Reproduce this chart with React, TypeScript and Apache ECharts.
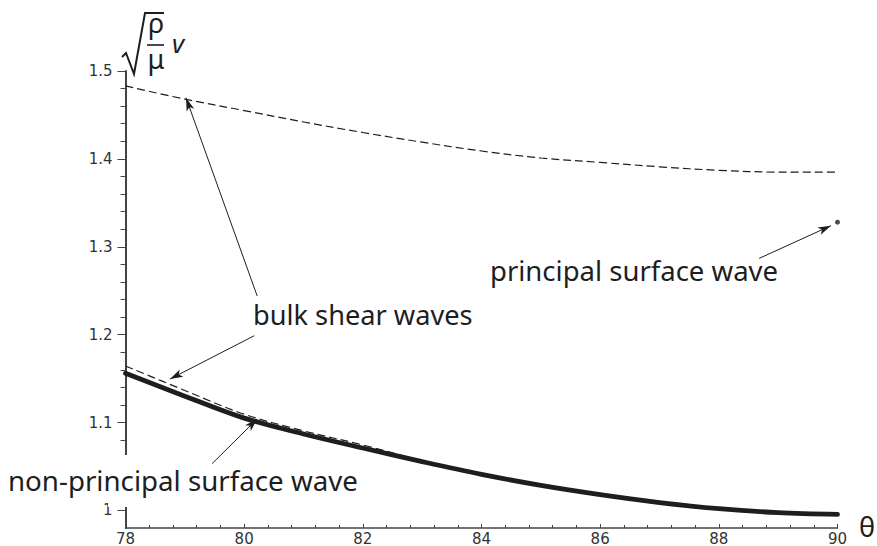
import React, { useEffect, useRef } from "react";
import * as echarts from "echarts";

// theta (degrees)
const thetaValues = [78, 79, 80, 81, 82, 83, 84, 85, 86, 87, 88, 89, 90];
// upper bulk shear wave (dashed)
const outerBulkWave = [1.483, 1.468, 1.455, 1.442, 1.430, 1.419, 1.409, 1.401, 1.396, 1.391, 1.387, 1.385, 1.385];
// lower bulk shear wave (dashed), merges into the surface wave
const innerBulkTheta = [78, 79, 80, 81, 82, 83, 84];
const innerBulkWave = [1.1644, 1.1365, 1.1095, 1.0905, 1.0745, 1.0565, 1.041];
// non-principal surface wave (thick solid)
const nonPrincipalWave = [1.156, 1.130, 1.105, 1.087, 1.071, 1.0555, 1.041, 1.0285, 1.018, 1.009, 1.002, 0.9975, 0.9955];
// principal surface wave (single point)
const principalTheta = [90];
const principalWave = [1.328];

// tick values
const xTickLabels = [78, 80, 82, 84, 86, 88, 90];
const yMajorTicks = [1, 1.1, 1.2, 1.3, 1.4, 1.5];
const yMinorTicks = [
  1.02, 1.04, 1.06, 1.08, 1.12, 1.14, 1.16, 1.18, 1.22, 1.24, 1.26, 1.28,
  1.32, 1.34, 1.36, 1.38, 1.42, 1.44, 1.46, 1.48,
];

// annotation arrows: [start theta, start v, tip theta, tip v]
const arrowStartTheta = [80.22, 80.17, 79.46, 88.68];
const arrowStartV = [1.2439, 1.1988, 1.0533, 1.2868];
const arrowTipTheta = [79.02, 78.75, 80.22, 89.89];
const arrowTipV = [1.4695, 1.1495, 1.1041, 1.324];

const annotationTexts = ["bulk shear waves", "non-principal surface wave", "principal surface wave"];

const INK = "#1e1e1e";
const TEXT_FONT = "'Noto Sans', 'DejaVu Sans', sans-serif";
const TICK_FONT = "'DejaVu Sans', sans-serif";

export default function App() {
  const ref = useRef<HTMLDivElement>(null);

  useEffect(() => {
    if (!ref.current) return;
    const chart = echarts.init(ref.current, null, { renderer: "svg" });

    const arrows = arrowStartTheta.map((_, i) => [
      { coord: [arrowStartTheta[i], arrowStartV[i]] },
      { coord: [arrowTipTheta[i], arrowTipV[i]] },
    ]);

    const option: any = {
      animation: false,
      backgroundColor: "#ffffff",
      grid: { left: 125.5, right: 39.5, top: 71, bottom: 14, containLabel: false },
      xAxis: {
        type: "value",
        min: 78,
        max: 90,
        interval: 2,
        axisLine: { show: true, onZero: false, lineStyle: { color: "#444", width: 1.5 } },
        axisTick: { show: true, inside: true, length: 4, lineStyle: { color: "#444", width: 1 } },
        minorTick: { show: true, splitNumber: 5, length: 3, lineStyle: { color: "#444", width: 1 } },
        splitLine: { show: false },
        axisLabel: {
          show: true,
          margin: 3,
          color: "#333",
          fontSize: 15,
          fontFamily: TICK_FONT,
          customValues: xTickLabels,
        },
      },
      yAxis: [
        {
          type: "value",
          min: 0.98,
          max: 1.5,
          position: "left",
          axisLine: { show: true, onZero: false, lineStyle: { color: "#444", width: 2 } },
          axisTick: {
            show: true,
            inside: false,
            length: 8,
            customValues: yMajorTicks,
            lineStyle: { color: "#444", width: 1 },
          },
          splitLine: { show: false },
          axisLabel: {
            show: true,
            margin: 13,
            color: "#333",
            fontSize: 15,
            fontFamily: TICK_FONT,
            customValues: yMajorTicks,
          },
        },
        {
          type: "value",
          min: 0.98,
          max: 1.5,
          position: "left",
          offset: 0,
          axisLine: { show: false },
          axisTick: {
            show: true,
            inside: false,
            length: 5,
            customValues: yMinorTicks,
            lineStyle: { color: "#444", width: 1 },
          },
          splitLine: { show: false },
          axisLabel: { show: false },
        },
      ],
      series: [
        {
          name: "bulk shear wave (upper)",
          type: "line",
          data: thetaValues.map((t, i) => [t, outerBulkWave[i]]),
          smooth: 0.35,
          showSymbol: false,
          symbol: "none",
          lineStyle: { color: INK, width: 1.2, type: [8, 4] },
          z: 3,
          silent: true,
        },
        {
          name: "bulk shear wave (lower)",
          type: "line",
          data: innerBulkTheta.map((t, i) => [t, innerBulkWave[i]]),
          smooth: 0.35,
          showSymbol: false,
          symbol: "none",
          lineStyle: { color: INK, width: 1.2, type: [8, 4] },
          z: 3,
          silent: true,
        },
        {
          name: "non-principal surface wave",
          type: "line",
          data: thetaValues.map((t, i) => [t, nonPrincipalWave[i]]),
          smooth: 0.35,
          showSymbol: false,
          symbol: "none",
          lineStyle: { color: INK, width: 4.8, cap: "round" },
          z: 4,
          silent: true,
        },
        {
          name: "principal surface wave",
          type: "scatter",
          data: principalTheta.map((t, i) => [t, principalWave[i]]),
          symbol: "circle",
          symbolSize: 5,
          itemStyle: { color: INK },
          z: 5,
          silent: true,
          markLine: {
            silent: true,
            symbol: ["none", "arrow"],
            symbolSize: [6, 13],
            label: { show: false },
            emphasis: { disabled: true },
            lineStyle: { color: INK, width: 1, type: "solid" },
            data: arrows,
          },
        },
      ],
      graphic: [
        // white gap in the y axis behind the lower label
        { type: "rect", shape: { x: 108, y: 455, width: 24, height: 52 }, style: { fill: "#ffffff" }, z: 50, silent: true },
        // y axis name: sqrt(rho/mu) v
        {
          type: "polyline",
          shape: { points: [[122, 57], [126, 53], [134, 74], [145, 13], [164, 13]] },
          style: { stroke: INK, lineWidth: 2, fill: null },
          z: 100,
          silent: true,
        },
        { type: "text", style: { text: "ρ", x: 156, y: 22, fontSize: 27, lineHeight: 20, fontFamily: TEXT_FONT, fill: INK, align: "center", verticalAlign: "middle" }, z: 100, silent: true },
        { type: "line", shape: { x1: 147, y1: 45, x2: 164, y2: 45 }, style: { stroke: INK, lineWidth: 1.6 }, z: 100, silent: true },
        { type: "text", style: { text: "μ", x: 156, y: 58, fontSize: 27, lineHeight: 20, fontFamily: TEXT_FONT, fill: INK, align: "center", verticalAlign: "middle" }, z: 100, silent: true },
        { type: "text", style: { text: "v", x: 178, y: 43, fontSize: 26, lineHeight: 20, fontStyle: "italic", fontFamily: TEXT_FONT, fill: INK, align: "center", verticalAlign: "middle" }, z: 100, silent: true },
        // x axis name
        { type: "text", style: { text: "θ", x: 867, y: 526, fontSize: 27, fontFamily: TEXT_FONT, fill: INK, align: "center", verticalAlign: "middle" }, z: 100, silent: true },
        // annotations
        { type: "text", style: { text: annotationTexts[0], x: 253, y: 314, fontSize: 27.2, fontFamily: TEXT_FONT, fill: INK, align: "left", verticalAlign: "middle" }, z: 100, silent: true },
        { type: "text", style: { text: annotationTexts[1], x: 8, y: 480, fontSize: 27.7, fontFamily: TEXT_FONT, fill: INK, align: "left", verticalAlign: "middle" }, z: 100, silent: true },
        { type: "text", style: { text: annotationTexts[2], x: 490, y: 270, fontSize: 27.5, fontFamily: TEXT_FONT, fill: INK, align: "left", verticalAlign: "middle" }, z: 100, silent: true },
      ],
    };

    chart.setOption(option);
    return () => {
      chart.dispose();
    };
  }, []);

  return (
    <div
      ref={ref}
      style={{ position: "fixed", left: 0, top: 0, width: 877, height: 546, background: "#fff" }}
    />
  );
}
